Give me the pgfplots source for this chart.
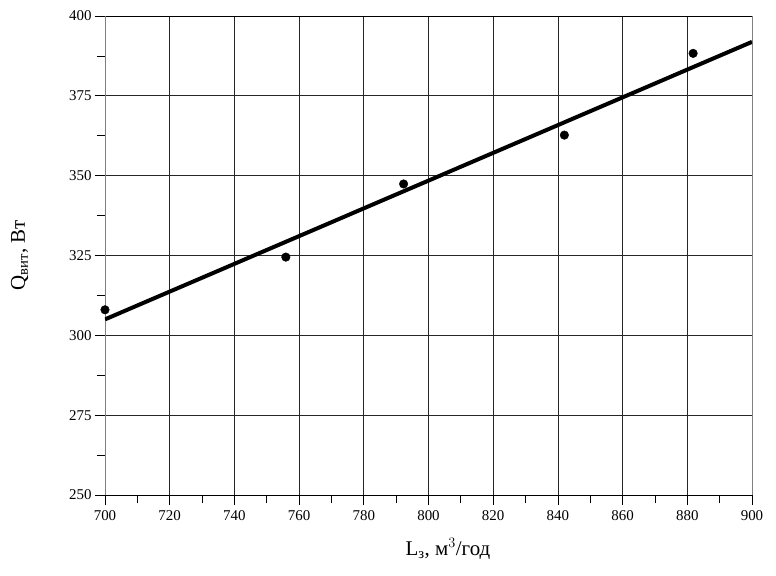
\documentclass[border=0pt]{standalone}
\usepackage{pgfplots}
\pgfplotsset{compat=1.18}
\usepackage{fontspec}
\setmainfont{Liberation Serif}
\begin{document}
\begin{tikzpicture}
\begin{axis}[
  scale only axis,
  width=647bp, height=479bp,
  xmin=700, xmax=900, ymin=250, ymax=400,
  xtick={700,720,...,900}, ytick={250,275,...,400},
  minor x tick num=1, minor y tick num=1,
  xtick pos=bottom, ytick pos=left,
  tick align=outside,
  major tick length=10bp, minor tick length=8bp,
  every tick/.style={black, line width=0.8pt},
  grid=major,
  major grid style={black!85, line width=0.8pt},
  separate axis lines,
  every outer x axis line/.append style={black, line width=0.8pt},
  every outer y axis line/.append style={gray, line width=0.8pt},
  /pgf/number format/assume math mode=true,
  /pgf/number format/1000 sep={},
  ticklabel style={font=\fontsize{15}{17}\selectfont},
  xticklabel style={yshift=-2bp},
  xlabel={L\textsubscript{з}, м$^{3}$/год},
  ylabel={Q\textsubscript{вит}, Вт},
  label style={font=\fontsize{21}{23}\selectfont},
  xlabel style={at={(axis description cs:0.53,0)}, anchor=north, yshift=-40bp},
  ylabel style={yshift=34bp},
]
\addplot[black, line width=4bp] coordinates {(700,305) (900,391.9)};
\addplot[only marks, mark=*, mark size=4.3bp, black] coordinates {
(700,308) (755.9,324.5) (792.3,347.4) (842,362.7) (881.8,388.3)};
\end{axis}
\path (current axis.south west) ++(-105bp,-81bp) coordinate (bl);
\path (current axis.north east) ++(24bp,16bp) coordinate (tr);
\useasboundingbox (bl) rectangle (tr);
\end{tikzpicture}
\end{document}
